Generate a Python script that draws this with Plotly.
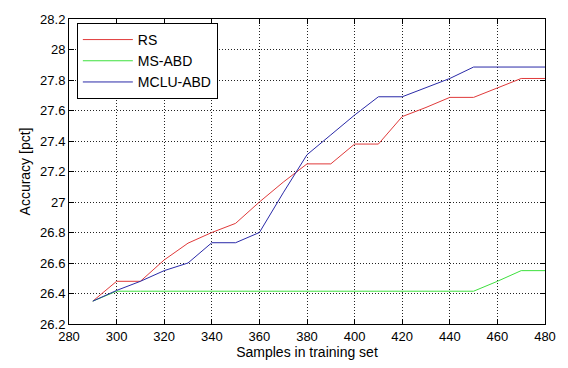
import plotly.graph_objects as go

# Training-set sizes on the x axis
samples = [290, 300, 310, 320, 330, 340, 350, 360, 370, 380,
           390, 400, 410, 420, 430, 440, 450, 460, 470, 480]

# Accuracy [pct] of each sampling strategy
acc_rs = [26.35, 26.48, 26.48, 26.62, 26.73, 26.80, 26.86, 27.00, 27.13, 27.25,
          27.25, 27.38, 27.38, 27.56, 27.62, 27.686, 27.686, 27.75, 27.81, 27.81]
acc_ms = [26.35, 26.415, 26.415, 26.415, 26.415, 26.415, 26.415, 26.415, 26.415, 26.415,
          26.415, 26.415, 26.415, 26.415, 26.415, 26.415, 26.415, 26.48, 26.55, 26.55]
acc_mclu = [26.35, 26.42, 26.48, 26.55, 26.60, 26.733, 26.733, 26.80, 27.06, 27.31,
            27.44, 27.57, 27.69, 27.69, 27.75, 27.81, 27.885, 27.885, 27.885, 27.885]

series = [
    ("RS", acc_rs, "#e03a3a"),
    ("MS-ABD", acc_ms, "#3ee03e"),
    ("MCLU-ABD", acc_mclu, "#2a2aa8"),
]

fig = go.Figure()
for name, vals, col in series:
    fig.add_trace(go.Scatter(x=samples, y=vals, mode="lines", name=name,
                             line=dict(color=col, width=1)))

font = "Liberation Sans, Arial, sans-serif"
axis_common = dict(
    showline=True, linecolor="black", linewidth=1, mirror="allticks",
    ticks="inside", ticklen=5, tickcolor="black",
    showgrid=True, gridcolor="#222222", gridwidth=1, griddash="1px,2px",
    zeroline=False, tickfont=dict(family=font, size=13, color="black"),
)

fig.update_layout(
    width=568, height=368,
    margin=dict(l=69, r=12, t=14, b=37),
    paper_bgcolor="white", plot_bgcolor="white",
    font=dict(family=font, color="black"),
    showlegend=True,
    legend=dict(x=0.0165, y=0.987, xanchor="left", yanchor="top",
                bgcolor="white", bordercolor="black", borderwidth=1,
                font=dict(family=font, size=14, color="black"),
                itemwidth=50, tracegroupgap=0),
    xaxis=dict(range=[280, 480], dtick=20, tick0=280,
               title=dict(text="Samples in training set", standoff=3,
                          font=dict(family=font, size=14)),
               **axis_common),
    yaxis=dict(range=[26.2, 28.2], dtick=0.2, tick0=26.2,
               title=dict(text="Accuracy [pct]", standoff=6,
                          font=dict(family=font, size=14)),
               **axis_common),
)

fig.write_html("out.html")
